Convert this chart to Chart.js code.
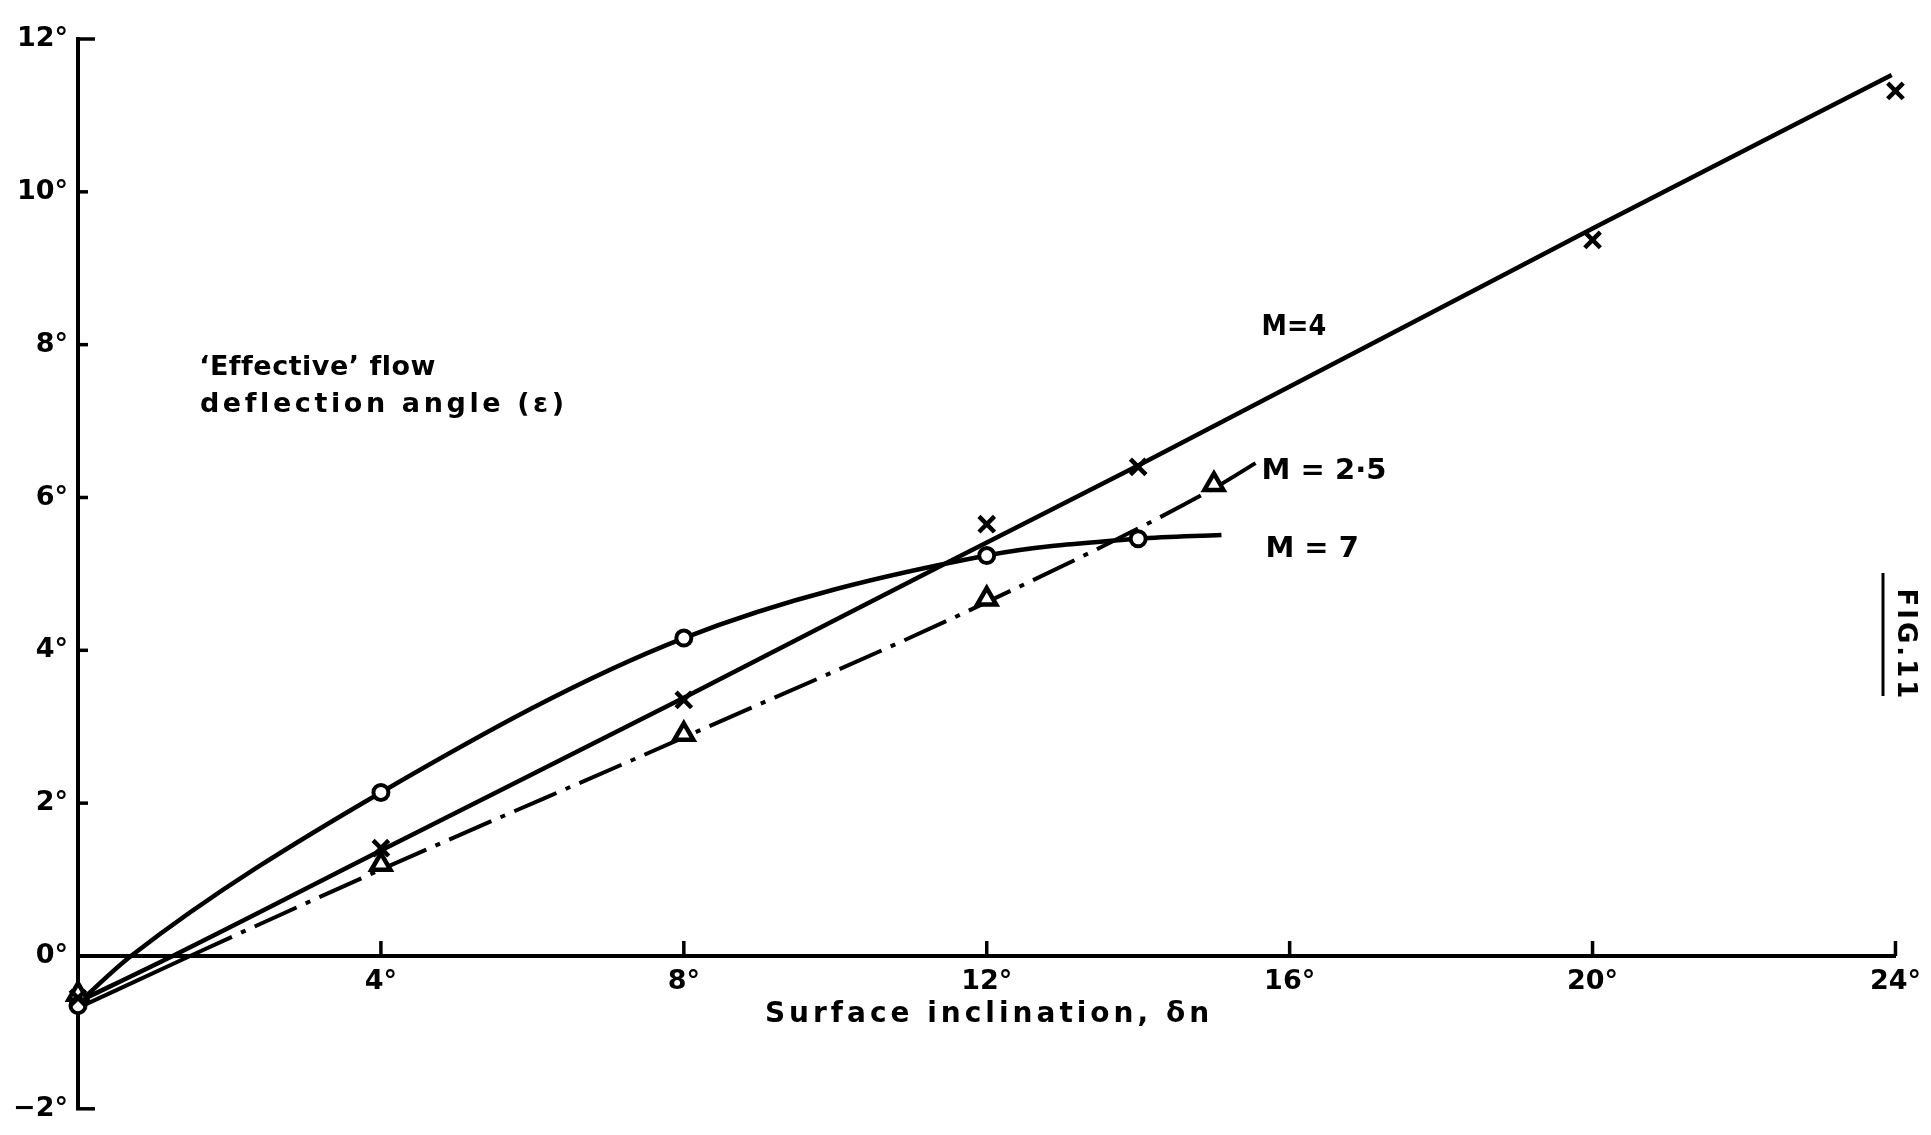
<!DOCTYPE html>
<html>
<head>
<meta charset="utf-8">
<title>Fig. 11 - Effective flow deflection angle</title>
<script src="https://cdn.jsdelivr.net/npm/chart.js@4.4.0/dist/chart.umd.min.js"></script>
<style>
    html, body { margin: 0; padding: 0; background: #fff; }
    #wrap { width: 1931px; height: 1135px; }
</style>
</head>
<body>
<div id="wrap"><canvas id="fig11" width="1931" height="1135"></canvas></div>
<script>
// values, degrees
const xTicks = [4, 8, 12, 16, 20, 24];
const yTicks = [-2, 0, 2, 4, 6, 8, 10, 12];

// M = 4 : crosses, full line
const m4X = [0, 4, 8, 12, 14, 20, 24];
const m4Y = [-0.55, 1.41, 3.35, 5.65, 6.4, 9.37, 11.32];
const m4CurveX = [0, 1.25, 4, 8, 11.5, 14, 20, 23.95];
const m4CurveY = [-0.6, 0, 1.38, 3.38, 5.16, 6.42, 9.52, 11.53];

// M = 2.5 : triangles, chain line
const m25X = [0, 4, 8, 12, 15];
const m25Y = [-0.5, 1.2, 2.9, 4.67, 6.17];
const m25CurveX = [0, 1.48, 4, 8, 12, 15, 15.55];
const m25CurveY = [-0.68, 0, 1.13, 2.86, 4.63, 6.12, 6.45];

// M = 7 : circles, full line
const m7X = [0, 4, 8, 12, 14];
const m7Y = [-0.65, 2.14, 4.16, 5.24, 5.46];
const m7CurveX = [0, 0.7, 4, 8, 12, 14, 15.1];
const m7CurveY = [-0.62, 0, 2.14, 4.16, 5.24, 5.46, 5.51];

const FONT = "'DejaVu Sans', sans-serif";
const pts = (xs, ys) => xs.map((x, i) => ({ x: x, y: ys[i] }));
const deg = v => (v < 0 ? '\u2212' + Math.abs(v) : v) + '\u00b0';

function drawLabel(ctx, text, x, y, opts = {}) {
    ctx.save();
    ctx.font = `bold ${opts.size || 27}px ${FONT}`;
    ctx.letterSpacing = (opts.spacing || 0) + 'px';
    ctx.fillStyle = '#000';
    ctx.textAlign = opts.align || 'left';
    ctx.textBaseline = 'middle';
    ctx.translate(x, y);
    if (opts.rotate) ctx.rotate(opts.rotate);
    ctx.scale(opts.sx || 1, 1);
    ctx.fillText(text, 0, 0);
    ctx.restore();
}

// inward tick marks + the hand lettered notes
const figureDecor = {
    id: 'figureDecor',
    afterDraw(chart) {
        const { ctx, scales: { x, y } } = chart;
        const x0 = x.getPixelForValue(0);
        const y0 = y.getPixelForValue(0);

        ctx.save();
        ctx.strokeStyle = '#000';
        ctx.lineWidth = 3.5;
        yTicks.forEach(v => {
            if (v === 0) return;
            const py = y.getPixelForValue(v);
            const len = (v === yTicks[0] || v === yTicks[yTicks.length - 1]) ? 17 : 10;
            ctx.beginPath();
            ctx.moveTo(x0 - 2, py);
            ctx.lineTo(x0 + len, py);
            ctx.stroke();
        });
        xTicks.forEach(v => {
            const px = x.getPixelForValue(v);
            ctx.beginPath();
            ctx.moveTo(px, y0);
            ctx.lineTo(px, y0 - 15);
            ctx.stroke();
        });
        ctx.restore();

        drawLabel(ctx, '\u2018Effective\u2019 flow', x.getPixelForValue(1.6), y.getPixelForValue(7.7), { spacing: 0.5 });
        drawLabel(ctx, 'deflection angle (\u03b5)', x.getPixelForValue(1.61), y.getPixelForValue(7.21), { spacing: 3.6 });
        drawLabel(ctx, 'Surface inclination, \u03b4n', x.getPixelForValue(12.03), y.getPixelForValue(-0.77), { align: 'center', spacing: 4, size: 28 });
        drawLabel(ctx, 'M=4', x.getPixelForValue(15.63), y.getPixelForValue(8.22), { size: 29, sx: 0.88 });
        drawLabel(ctx, 'M = 2\u00b75', x.getPixelForValue(15.63), y.getPixelForValue(6.34), { size: 29 });
        drawLabel(ctx, 'M = 7', x.getPixelForValue(15.68), y.getPixelForValue(5.32), { size: 29 });

        // figure number, turned on its side with a rule under it
        drawLabel(ctx, 'FIG.11', 1905, 645, { align: 'center', size: 26, spacing: 3, rotate: Math.PI / 2 });
        ctx.save();
        ctx.strokeStyle = '#000';
        ctx.lineWidth = 3;
        ctx.beginPath();
        ctx.moveTo(1883, 573);
        ctx.lineTo(1883, 696);
        ctx.stroke();
        ctx.restore();
    }
};

const tickFont = { family: FONT, size: 27, weight: 'bold' };

new Chart(document.getElementById('fig11'), {
    type: 'line',
    data: {
        datasets: [
            {
                label: 'M = 4 data',
                data: pts(m4X, m4Y),
                showLine: false,
                clip: false,
                pointStyle: 'crossRot',
                pointRadius: 11,
                pointBorderWidth: 4.5,
                borderColor: '#000',
                backgroundColor: '#000'
            },
            {
                label: 'M = 7 data',
                data: pts(m7X, m7Y),
                showLine: false,
                clip: false,
                pointStyle: 'circle',
                pointRadius: 7.5,
                pointBorderWidth: 4,
                borderColor: '#000',
                backgroundColor: '#fff'
            },
            {
                label: 'M = 2.5 data',
                data: pts(m25X, m25Y),
                showLine: false,
                clip: false,
                pointStyle: 'triangle',
                pointRadius: 11,
                pointBorderWidth: 4.5,
                borderColor: '#000',
                backgroundColor: '#fff'
            },
            {
                label: 'M = 4',
                data: pts(m4CurveX, m4CurveY),
                clip: false,
                borderColor: '#000',
                borderWidth: 4.5,
                pointRadius: 0,
                cubicInterpolationMode: 'monotone'
            },
            {
                label: 'M = 7',
                data: pts(m7CurveX, m7CurveY),
                clip: false,
                borderColor: '#000',
                borderWidth: 4.5,
                pointRadius: 0,
                cubicInterpolationMode: 'monotone'
            },
            {
                label: 'M = 2.5',
                data: pts(m25CurveX, m25CurveY),
                clip: false,
                borderColor: '#000',
                borderWidth: 4,
                pointRadius: 0,
                cubicInterpolationMode: 'monotone',
                segment: {
                    // solid near the ends, chain dotted in between
                    borderDash: c => (c.p0DataIndex === 0 || c.p1DataIndex === m25CurveX.length - 1) ? [] : [46, 10, 5, 10]
                }
            }
        ]
    },
    options: {
        responsive: false,
        animation: false,
        events: [],
        layout: { padding: { top: 39, right: 35, bottom: 24, left: 0 } },
        plugins: {
            legend: { display: false },
            tooltip: { enabled: false }
        },
        scales: {
            x: {
                type: 'linear',
                min: 0,
                max: 24,
                position: { y: 0 },
                afterBuildTicks: s => { s.ticks = xTicks.map(v => ({ value: v })); },
                afterFit: s => { s.height = 0; },
                grid: { display: false, drawTicks: false },
                border: { display: true, color: '#000', width: 4 },
                ticks: { color: '#000', padding: 10, font: tickFont, maxRotation: 0, autoSkip: false, callback: v => deg(v) }
            },
            y: {
                type: 'linear',
                min: -2,
                max: 12,
                afterBuildTicks: s => { s.ticks = yTicks.map(v => ({ value: v })); },
                afterFit: s => { s.width = 78; },
                grid: { display: false, drawTicks: false },
                border: { display: true, color: '#000', width: 4 },
                ticks: { color: '#000', padding: 10, font: tickFont, autoSkip: false, callback: v => deg(v) }
            }
        }
    },
    plugins: [figureDecor]
});
</script>
</body>
</html>
